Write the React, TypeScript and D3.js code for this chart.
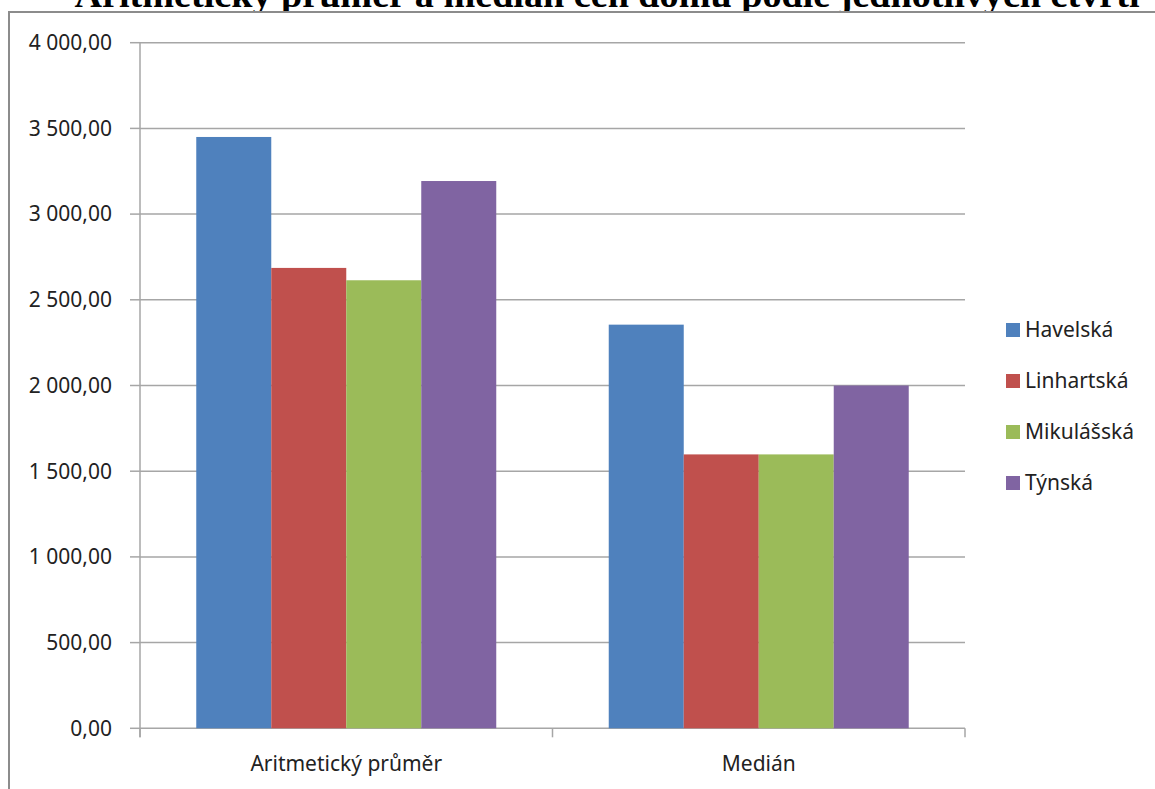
import React from "react";
import * as d3 from "d3";

const categories = ["Aritmetický průměr", "Medián"];
const seriesNames = ["Havelská", "Linhartská", "Mikulášská", "Týnská"];
const havelska = [3450, 2355];
const linhartska = [2686, 1598];
const mikulasska = [2614, 1598];
const tynska = [3193, 2000];
const seriesColors = ["#4f81bd", "#c0504d", "#9bbb59", "#8064a2"];
const yTicks = [0, 500, 1000, 1500, 2000, 2500, 3000, 3500, 4000];
const title = "Aritmetický průměr a medián cen domů podle jednotlivých čtvrtí";

const W = 1155;
const H = 789;
const left = 140;
const right = 965;
const top = 42.7;
const bottom = 728.3;
const FONT = "'Noto Sans', sans-serif";
const FS = 21;

const fmt = d3
  .formatLocale({ decimal: ",", thousands: "\u00a0", grouping: [3], currency: ["", ""] })
  .format(",.2f");

export default function App() {
  const series = [havelska, linhartska, mikulasska, tynska];
  const y = d3.scaleLinear().domain([0, 4000]).range([bottom, top]);
  const x0 = d3
    .scaleBand<string>()
    .domain(categories)
    .range([left, right])
    .paddingInner(0.2727)
    .paddingOuter(0.1364);
  const x1 = d3
    .scaleBand<string>()
    .domain(seriesNames)
    .range([0, x0.bandwidth()]);
  const step = (right - left) / categories.length;

  return (
    <svg
      width={W}
      height={H}
      style={{ position: "absolute", left: 0, top: 0, display: "block", background: "#fff" }}
    >
      <rect x={0} y={0} width={W} height={H} fill="#fff" />
      {/* title */}
      <text
        x={607}
        y={7}
        textAnchor="middle"
        fontFamily="'Liberation Serif', 'Times New Roman', serif"
        fontWeight="bold"
        fontSize={36}
        textLength={1065}
        lengthAdjust="spacingAndGlyphs"
        fill="#000"
      >
        {title}
      </text>
      {/* outer frame */}
      <rect x={9} y={12} width={W + 20} height={H + 20} fill="#fff" fillOpacity={0} stroke="#8c8c8c" strokeWidth={2} />
      <rect x={10} y={13} width={W} height={H} fill="#fff" />
      {/* gridlines and y ticks */}
      {yTicks.map((t) => (
        <g key={t}>
          <line x1={left} x2={right} y1={y(t)} y2={y(t)} stroke="#a6a6a6" strokeWidth={1.5} />
          <line x1={130} x2={left} y1={y(t)} y2={y(t)} stroke="#a6a6a6" strokeWidth={1.5} />
          <text
            x={112}
            y={y(t)}
            dy="0.35em"
            textAnchor="end"
            fontFamily={FONT}
            fontSize={FS}
            fill="#222"
          >
            {fmt(t)}
          </text>
        </g>
      ))}
      {/* y axis line */}
      <line x1={left} x2={left} y1={top} y2={bottom + 9} stroke="#a6a6a6" strokeWidth={1.5} />
      {/* x axis ticks */}
      {d3.range(categories.length + 1).map((i) => (
        <line
          key={i}
          x1={left + i * step}
          x2={left + i * step}
          y1={bottom}
          y2={bottom + 9}
          stroke="#a6a6a6"
          strokeWidth={1.5}
        />
      ))}
      {/* bars */}
      {categories.map((c, ci) => (
        <g key={c} transform={`translate(${x0(c)},0)`}>
          {seriesNames.map((s, si) => (
            <rect
              key={s}
              x={x1(s)}
              y={y(series[si][ci])}
              width={x1.bandwidth()}
              height={bottom - y(series[si][ci])}
              fill={seriesColors[si]}
            />
          ))}
        </g>
      ))}
      {/* x labels */}
      {categories.map((c) => (
        <text
          key={c}
          x={(x0(c) as number) + x0.bandwidth() / 2}
          y={771}
          textAnchor="middle"
          fontFamily={FONT}
          fontSize={FS}
          fill="#222"
        >
          {c}
        </text>
      ))}
      {/* legend */}
      {seriesNames.map((s, i) => {
        const cy = 330 + i * 51;
        return (
          <g key={s}>
            <rect x={1006} y={cy - 7} width={14} height={14} fill={seriesColors[i]} />
            <text x={1025} y={cy} dy="0.35em" fontFamily={FONT} fontSize={FS} fill="#222">
              {s}
            </text>
          </g>
        );
      })}
    </svg>
  );
}
